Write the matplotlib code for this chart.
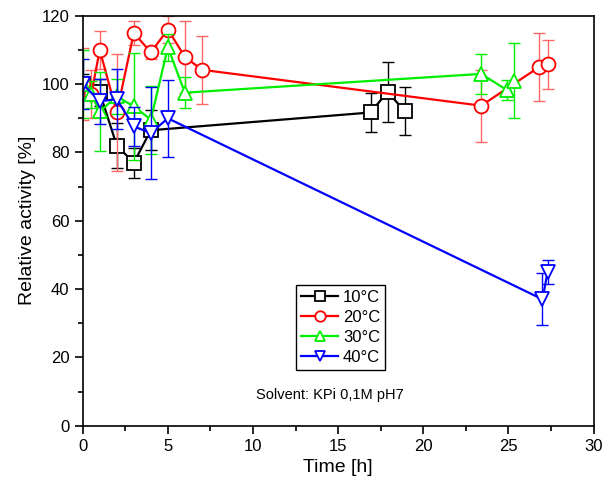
import matplotlib
matplotlib.use('Agg')
import matplotlib.pyplot as plt
from matplotlib.ticker import MultipleLocator

plt.rcParams['font.family'] = ['Liberation Sans', 'DejaVu Sans']

# 10 degC
t10 = [0, 1, 2, 3, 4, 16.9, 17.9, 18.9]
v10 = [100, 97.6, 82, 77, 86.5, 91.7, 97.7, 92.2]
e10 = [3, 4, 6.5, 4.4, 5.9, 5.7, 8.9, 7.1]

# 20 degC
t20 = [0, 0.5, 1, 2, 3, 4, 5, 6, 7, 23.4, 26.8, 27.3]
v20 = [100, 97, 110, 91.7, 115, 109.3, 116, 108, 104.2, 93.7, 105, 105.8]
e20 = [10.5, 7, 5.6, 17, 3.5, 2, 4, 10.5, 9.9, 10.5, 10, 7.2]

# 30 degC
t30 = [0, 0.5, 1, 2, 3, 4, 5, 6, 23.4, 24.9, 25.3]
v30 = [100, 97, 92, 96.4, 93.5, 89.6, 110.8, 97.5, 103, 98.3, 101]
e30 = [10, 4, 11.6, 5, 15.6, 10, 4, 4.6, 5.8, 3, 11]

# 40 degC
t40 = [0, 1, 2, 3, 4, 5, 27.0, 27.3]
v40 = [100, 95, 95.6, 87.6, 85.7, 90, 37, 45]
e40 = [7.3, 6.6, 8.8, 5.6, 13.6, 11.3, 7.6, 3.5]

fig = plt.figure(figsize=(6.06, 4.92), dpi=100)
ax = fig.add_axes([0.1365, 0.1348, 0.843, 0.833])

series = [
    (t10, v10, e10, 'k', 'k', 's', '10°C'),
    (t20, v20, e20, '#ff0000', '#ff6666', 'o', '20°C'),
    (t30, v30, e30, '#00ee00', '#00ee00', '^', '30°C'),
    (t40, v40, e40, '#0000ff', '#0000ff', 'v', '40°C'),
]

for t, v, e, c, ec, m, lab in series:
    ax.errorbar(t, v, yerr=e, fmt='none', ecolor=ec, elinewidth=1,
                capsize=4, capthick=1)
    ax.plot(t, v, color=c, marker=m, markersize=10, markerfacecolor='white',
            markeredgecolor=c, markeredgewidth=1.3, linewidth=1.6, label=lab)

ax.set_xlim(0, 30)
ax.set_ylim(0, 120)
ax.xaxis.set_major_locator(MultipleLocator(5))
ax.xaxis.set_minor_locator(MultipleLocator(2.5))
ax.yaxis.set_major_locator(MultipleLocator(20))
ax.yaxis.set_minor_locator(MultipleLocator(10))
ax.tick_params(which='major', direction='out', length=6, width=1.2, labelsize=12)
ax.tick_params(which='minor', direction='out', length=3.5, width=1.2)
for s in ax.spines.values():
    s.set_linewidth(1.2)

ax.set_xlabel('Time [h]', fontsize=14)
ax.set_ylabel('Relative activity [%]', fontsize=14)

leg = ax.legend(loc='lower left', bbox_to_anchor=(0.418, 0.136), fontsize=12,
                fancybox=False, framealpha=1, edgecolor='black',
                markerscale=0.75, handlelength=2.2, handletextpad=0.3,
                borderpad=0.3, labelspacing=0.3, borderaxespad=0)
leg.get_frame().set_linewidth(1.0)

ax.text(14.5, 9, 'Solvent: KPi 0,1M pH7', ha='center', va='center', fontsize=10.5)

fig.savefig('out.png', dpi=100)
